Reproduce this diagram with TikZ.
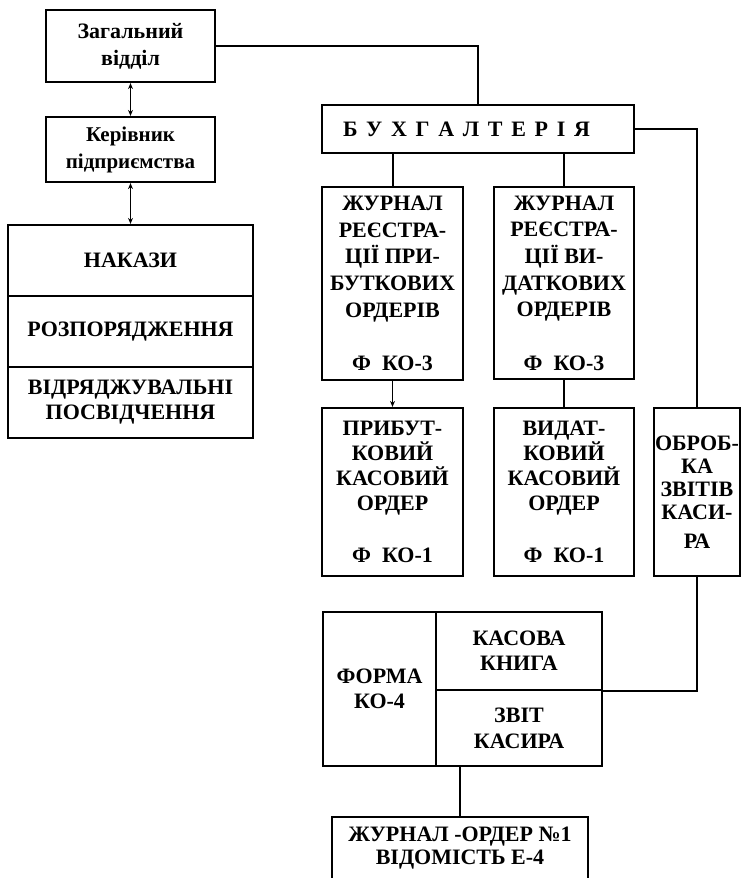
\documentclass[tikz,border=0pt]{standalone}
\usepackage{fontspec}
\setmainfont{Liberation Serif}
\usetikzlibrary{arrows.meta}
\begin{document}
\begin{tikzpicture}[x=1pt,y=-1pt,
  box/.style={draw, line width=2.2pt, inner sep=0pt, align=center, font=\fontsize{22}{26.7}\selectfont\bfseries},
  link/.style={line width=2pt},
  dbl/.style={line width=1.6pt, {Stealth[length=6pt,width=5pt]}-{Stealth[length=6pt,width=5pt]}},
  arr/.style={line width=1.6pt, -{Stealth[length=6pt,width=5pt]}}]
\useasboundingbox (0,0) rectangle (742,878);
\fill[white] (0,0) rectangle (742,878);
% left column
\node[box, minimum width=169pt, minimum height=72pt, font=\fontsize{22}{26.7}\selectfont\bfseries] (zag) at (130.5,46) {Загальний\\відділ};
\node[box, minimum width=169pt, minimum height=65pt, font=\fontsize{21}{27}\selectfont\bfseries] (ker) at (130.5,149.5) {Керівник\\підприємства};
\node[box, minimum width=245pt, minimum height=71pt] (nak) at (130.5,260.5) {НАКАЗИ};
\node[box, minimum width=245pt, minimum height=71pt] (roz) at (130.5,331.5) {РОЗПОРЯДЖЕННЯ};
\node[box, minimum width=245pt, minimum height=71pt, font=\fontsize{22}{25}\selectfont\bfseries] (vid) at (130.5,402.5) {ВІДРЯДЖУВАЛЬНІ\\ПОСВІДЧЕННЯ};
\draw[dbl] (zag.south) -- (ker.north);
\draw[dbl] (ker.south) -- (nak.north);
% accounting
\node[box, minimum width=312pt, minimum height=48pt] (bukh) at (478,129)
  {\makebox[247pt][s]{Б\hfill У\hfill Х\hfill Г\hfill А\hfill Л\hfill Т\hfill Е\hfill Р\hfill І\hfill Я}\hspace{23pt}};
\node[box, minimum width=141pt, minimum height=193pt] (j1) at (392.5,283.5)
  {ЖУРНАЛ\\РЕЄСТРА-\\ЦІЇ ПРИ-\\БУТКОВИХ\\ОРДЕРІВ\\[26.7pt]Ф\enspace КО-3};
\node[box, minimum width=140pt, minimum height=192pt] (j2) at (564,283)
  {ЖУРНАЛ\\РЕЄСТРА-\\ЦІЇ ВИ-\\ДАТКОВИХ\\ОРДЕРІВ\\[26.7pt]Ф\enspace КО-3};
\node[box, minimum width=141pt, minimum height=168pt, font=\fontsize{22}{25}\selectfont\bfseries] (p1) at (392.5,492)
  {ПРИБУТ-\\КОВИЙ\\КАСОВИЙ\\ОРДЕР\\[27pt]Ф\enspace КО-1};
\node[box, minimum width=140pt, minimum height=168pt, font=\fontsize{22}{25}\selectfont\bfseries] (v1) at (564,492)
  {ВИДАТ-\\КОВИЙ\\КАСОВИЙ\\ОРДЕР\\[27pt]Ф\enspace КО-1};
\node[box, minimum width=86pt, minimum height=168pt, font=\fontsize{22}{23}\selectfont\bfseries] (obr) at (697,492)
  {\makebox[0pt]{ОБРОБ-}\\\makebox[0pt]{КА}\\\makebox[0pt]{ЗВІТІВ}\\\makebox[0pt]{КАСИ-}\\[6pt]\makebox[0pt]{РА}};
% bottom
\node[box, minimum width=113pt, minimum height=154pt, font=\fontsize{22}{25}\selectfont\bfseries] (form) at (379.5,689) {ФОРМА\\КО-4};
\node[box, minimum width=166pt, minimum height=78pt, font=\fontsize{22}{25}\selectfont\bfseries] (kk) at (519,651) {КАСОВА\\КНИГА};
\node[box, minimum width=166pt, minimum height=76pt, font=\fontsize{22}{26}\selectfont\bfseries] (zk) at (519,728) {ЗВІТ\\КАСИРА};
\node[box, minimum width=256pt, anchor=north, inner sep=10pt, text depth=40pt, font=\fontsize{22}{23}\selectfont\bfseries] (jo) at (460,816)
  {ЖУРНАЛ -ОРДЕР №1\\ВІДОМІСТЬ Е-4};
% connectors
\draw[link] (zag.east) -| (bukh.north);
\draw[link] (bukh.east) -| (obr.north);
\draw[link] (j1.north) -- (j1.north |- bukh.south);
\draw[link] (j2.north) -- (j2.north |- bukh.south);
\draw[arr] (j1.south) -- (p1.north);
\draw[link] (j2.south) -- (v1.north);
\draw[link] (obr.south) |- (kk.south east);
\draw[link] (jo.north) -- (jo.north |- zk.south);
\end{tikzpicture}
\end{document}
